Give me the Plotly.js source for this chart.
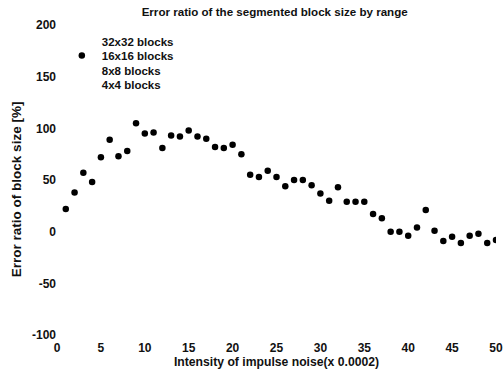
<!DOCTYPE html>
<html>
<head>
<meta charset="utf-8">
<script src="https://cdn.plot.ly/plotly-3.0.1.min.js"></script>
<style>html,body{margin:0;padding:0;background:#fff;}#chart{width:504px;height:372px;}</style>
</head>
<body>
<div id="chart"></div>
<script>
// Data (only the 16x16 series is visible in the scan)
var noiseIntensity = [1,2,3,4,5,6,7,8,9,10,11,12,13,14,15,16,17,18,19,20,21,22,23,24,25,26,27,28,29,30,31,32,33,34,35,36,37,38,39,40,41,42,43,44,45,46,47,48,49,50];
var error16x16 = [22,38,57,48,72,89,73,78,105,95,96,81,93,92,98,92,90,82,81,84,75,55,53,59,53,44,50,50,45,37,30,43,29,29,29,17,13,0,0,-4,4,21,1,-9,-5,-11,-4,-2,-11,-8];
// the other series are not legible in the scan
var error32x32 = [null];
var error8x8 = [null];
var error4x4 = [null];
var seriesNames = ['32x32 blocks','16x16 blocks','8x8 blocks','4x4 blocks'];
var xTicks = [0,5,10,15,20,25,30,35,40,45,50];
var yTicks = [-100,-50,0,50,100,150,200];

var fam = 'Liberation Sans, Arial, sans-serif';
function f(s){ return {family: fam, size: s, color: '#111'}; }
var hidden = {color: 'rgba(0,0,0,0)', size: 6};
function b(s){ return '<b>' + s + '</b>'; }

var traces = [
  {x: [null], y: error32x32, name: b(seriesNames[0]), mode: 'markers', type: 'scatter', marker: hidden, legend: 'legend'},
  {x: noiseIntensity, y: error16x16, name: b(seriesNames[1]), mode: 'markers', type: 'scatter', marker: {color: '#000', size: 6.5}, legend: 'legend2'},
  {x: [null], y: error8x8, name: b(seriesNames[2]), mode: 'markers', type: 'scatter', marker: hidden, legend: 'legend3'},
  {x: [null], y: error4x4, name: b(seriesNames[3]), mode: 'markers', type: 'scatter', marker: hidden, legend: 'legend4'}
];

function leg(py){
  return {x: 0.011, y: (335 - py) / 310, xanchor: 'left', yanchor: 'middle', bgcolor: 'rgba(0,0,0,0)', borderwidth: 0, itemwidth: 30, font: f(11.5)};
}

var layout = {
  width: 504, height: 372,
  margin: {l: 57, r: 8, t: 25, b: 37},
  paper_bgcolor: '#fff', plot_bgcolor: '#fff',
  font: f(12),
  showlegend: true,
  title: {text: b('Error ratio of the segmented block size by range'), x: 0.545, xanchor: 'center', y: 0.967, yanchor: 'middle', font: f(11.6)},
  xaxis: {
    range: [0, 50], tickvals: xTicks, ticktext: xTicks.map(b),
    showgrid: false, zeroline: false, showline: false,
    ticks: 'outside', ticklen: 2, tickcolor: 'rgba(0,0,0,0)',
    tickfont: f(12),
    title: {text: b('Intensity of impulse noise(x 0.0002)'), standoff: 3, font: f(12.2)}
  },
  yaxis: {
    range: [-100, 200], tickvals: yTicks, ticktext: yTicks.map(b),
    showgrid: false, zeroline: false, showline: false,
    ticks: '',
    tickfont: f(12),
    title: {text: b('Error ratio of block size [%]') + '&nbsp;&nbsp;&nbsp;&nbsp;&nbsp;', standoff: 7, font: f(13.5)}
  },
  legend: leg(41),
  legend2: leg(55.5),
  legend3: leg(70),
  legend4: leg(84.5)
};

Plotly.newPlot('chart', traces, layout, {displayModeBar: false, staticPlot: true});
</script>
</body>
</html>
